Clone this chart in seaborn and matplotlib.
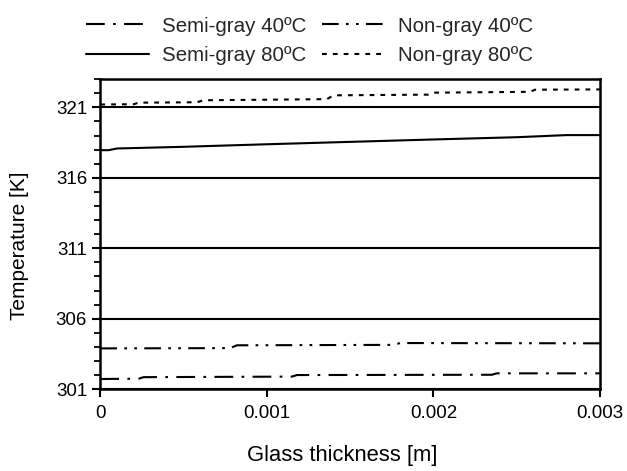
import pandas as pd
import matplotlib.pyplot as plt
import matplotlib.ticker as mticker
import seaborn as sns

sns.set_theme(style="ticks")
plt.rcParams['font.family'] = ['Liberation Sans', 'DejaVu Sans']

# Data (glass thickness [m] vs temperature [K])
x_semi40 = [0, 0.00023, 0.00026, 0.00115, 0.00118, 0.00235, 0.00238, 0.003]
y_semi40 = [301.73, 301.75, 301.86, 301.9, 302.01, 302.03, 302.13, 302.13]

x_non40 = [0, 0.00078, 0.00082, 0.00176, 0.0018, 0.003]
y_non40 = [303.9, 303.92, 304.12, 304.15, 304.28, 304.26]

x_semi80 = [0, 0.00005, 0.0001, 0.0005, 0.001, 0.0015, 0.002, 0.0025, 0.0028, 0.003]
y_semi80 = [317.96, 317.96, 318.08, 318.2, 318.38, 318.55, 318.72, 318.88, 319.03, 319.03]

x_non80 = [0, 0.0002, 0.00023, 0.00058, 0.00062, 0.00136, 0.0014, 0.00197, 0.002, 0.00258, 0.00261, 0.003]
y_non80 = [321.2, 321.22, 321.33, 321.36, 321.5, 321.58, 321.85, 321.9, 322.04, 322.1, 322.25, 322.27]

series = [
    ('Semi-gray 40ºC', x_semi40, y_semi40, (0, (9, 4, 1.3, 4))),
    ('Semi-gray 80ºC', x_semi80, y_semi80, '-'),
    ('Non-gray 40ºC', x_non40, y_non40, (0, (8, 3.5, 1.3, 3.5, 1.3, 3.5))),
    ('Non-gray 80ºC', x_non80, y_non80, (0, (2.3, 2.9))),
]

fig = plt.figure(figsize=(6.27, 4.71), dpi=100)
ax = fig.add_axes([0.160, 0.1735, 0.797, 0.6585])

for name, xs, ys, ls in series:
    df = pd.DataFrame({'x': xs, 'y': ys})
    sns.lineplot(data=df, x='x', y='y', ax=ax, color='black', lw=1.5,
                 linestyle=ls, label=name, legend=False)

ax.set_xlim(0, 0.003)
ax.set_ylim(301, 323)
ax.xaxis.set_major_locator(mticker.FixedLocator([0, 0.001, 0.002, 0.003]))
ax.xaxis.set_major_formatter(mticker.FixedFormatter(['0', '0.001', '0.002', '0.003']))
ax.yaxis.set_major_locator(mticker.FixedLocator([301, 306, 311, 316, 321]))
ax.yaxis.set_minor_locator(mticker.MultipleLocator(1))
ax.yaxis.grid(True, which='major', color='black', lw=1.5)
ax.set_axisbelow(True)

for s in ax.spines.values():
    s.set_visible(True)
    s.set_color('black')
    s.set_linewidth(1.8)

ax.tick_params(axis='both', which='major', length=6, width=1.5, colors='black',
               labelsize=13.5, pad=3.5)
ax.tick_params(axis='x', which='major', pad=5.5)
ax.tick_params(axis='y', which='minor', length=4.5, width=1.3, color='black')

ax.set_xlabel('Glass thickness [m]', fontsize=15.8, color='black')
ax.set_ylabel('Temperature [K]', fontsize=15, color='black')
# label placement (axes fraction)
ax.xaxis.set_label_coords(0.4835, -0.1795)
ax.yaxis.set_label_coords(-0.143, 0.462)

handles, labels = ax.get_legend_handles_labels()
fig.legend(handles, labels, ncol=2, loc='upper left', bbox_to_anchor=(0.108, 1.004),
           frameon=False, fontsize=14.8, handlelength=3.06, handletextpad=0.63,
           columnspacing=0.78, labelspacing=0.5)

fig.savefig('out.png', dpi=100)
